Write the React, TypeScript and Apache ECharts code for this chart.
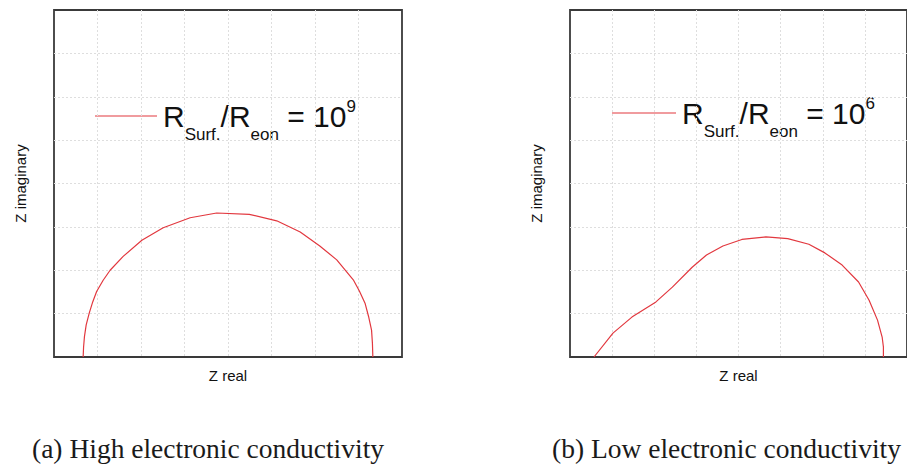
import React, { useEffect, useRef } from "react";
import * as echarts from "echarts";

// Nyquist-style impedance arcs (arbitrary units, axes 0..8)
const realHigh = [0.67, 0.68, 0.70, 0.74, 0.81, 0.89, 0.98, 1.13, 1.29, 1.59, 2.02, 2.51, 3.13, 3.74, 4.49, 5.12, 5.66, 6.11, 6.50, 6.88, 7.02, 7.15, 7.23, 7.30, 7.32, 7.33];
const imagHigh = [0, 0.23, 0.47, 0.74, 1.01, 1.27, 1.51, 1.77, 2.00, 2.32, 2.69, 2.98, 3.21, 3.32, 3.29, 3.14, 2.88, 2.56, 2.24, 1.78, 1.52, 1.24, 0.94, 0.62, 0.32, 0];

const realLow = [0.57, 1.02, 1.47, 2.04, 2.43, 2.90, 3.24, 3.63, 4.08, 4.65, 5.17, 5.67, 6.05, 6.46, 6.85, 7.10, 7.30, 7.41, 7.44, 7.44];
const imagLow = [0, 0.55, 0.92, 1.27, 1.61, 2.07, 2.35, 2.56, 2.71, 2.77, 2.73, 2.60, 2.40, 2.12, 1.73, 1.31, 0.85, 0.46, 0.23, 0];

const ratioExponents = ["9", "6"];
const captions = ["(a) High electronic conductivity", "(b) Low electronic conductivity"];
const xTitle = "Z real";
const yTitle = "Z imaginary";
const axisMin = 0;
const axisMax = 8;
const axisStep = 1;

const seriesNames = ["ratio-1e9", "ratio-1e6"];

const SANS = '"Liberation Sans", Arial, Helvetica, sans-serif';
const SERIF = '"Liberation Serif", "Times New Roman", serif';
const RED = "#e2383f";
const FRAME = "#3a3a3a";

const richStyles = {
  m: { fontSize: 30, lineHeight: 30, fontFamily: SANS, fill: "#111" },
  sub: { fontSize: 17, lineHeight: 17, fontFamily: SANS, fill: "#111", padding: [37, 0, 0, 0] },
  sup: { fontSize: 17, lineHeight: 17, fontFamily: SANS, fill: "#111", padding: [0, 0, 19, 0] },
};

function toPairs(xs: number[], ys: number[]) {
  return xs.map((x, i) => [x, ys[i]]);
}

function axisPair(idx: number) {
  const common = {
    type: "value" as const,
    gridIndex: idx,
    min: axisMin,
    max: axisMax,
    interval: axisStep,
    axisLine: { show: false },
    axisTick: { show: false },
    axisLabel: { show: false },
    splitLine: {
      show: true,
      showMinLine: false,
      showMaxLine: false,
      lineStyle: { color: "#dedede", width: 1, type: [2, 2] },
    },
    nameLocation: "middle" as const,
    nameTextStyle: { fontSize: 15, fontFamily: SANS, color: "#111" },
  };
  return {
    x: { ...common, name: xTitle, nameGap: 11 },
    y: { ...common, name: yTitle, nameGap: 26 },
  };
}

function legendKey(x1: number, x2: number, y: number, textX: number, exp: string) {
  return {
    type: "group",
    children: [
      { type: "line", shape: { x1, y1: y, x2, y2: y }, style: { stroke: RED, lineWidth: 1.2 } },
      {
        type: "text",
        x: textX,
        y,
        style: {
          text: `{m|R}{sub|Surf.}{m|/R}{sub|eon}{m| = 10}{sup|${exp}}`,
          rich: richStyles,
          verticalAlign: "middle",
          align: "left",
        },
      },
    ],
  };
}

function arcSeries(idx: number, xs: number[], ys: number[]) {
  return {
    name: seriesNames[idx],
    type: "line",
    xAxisIndex: idx,
    yAxisIndex: idx,
    data: toPairs(xs, ys),
    symbol: "none",
    lineStyle: { color: RED, width: 1.2 },
    itemStyle: { color: RED },
  };
}

export default function App() {
  const ref = useRef<HTMLDivElement>(null);

  useEffect(() => {
    document.body.style.margin = "0";
    if (!ref.current) return;
    const chart = echarts.init(ref.current, undefined, { renderer: "svg" });
    const a0 = axisPair(0);
    const a1 = axisPair(1);
    const frame = { show: true, borderColor: FRAME, borderWidth: 1.8, backgroundColor: "transparent" };
    chart.setOption({
      animation: false,
      backgroundColor: "#fff",
      grid: [
        { left: 54, top: 10, width: 348, height: 347, ...frame },
        { left: 570, top: 10, width: 353, height: 347, ...frame },
      ],
      xAxis: [a0.x, a1.x],
      yAxis: [a0.y, a1.y],
      series: [arcSeries(0, realHigh, imagHigh), arcSeries(1, realLow, imagLow)],
      graphic: [
        legendKey(95, 157, 116, 163, ratioExponents[0]),
        legendKey(612, 676, 113, 682, ratioExponents[1]),
        { type: "text", left: 32, top: 434, style: { text: captions[0], font: `27.5px ${SERIF}`, fill: "#1a1a1a" } },
        { type: "text", left: 552, top: 434, style: { text: captions[1], font: `27.5px ${SERIF}`, fill: "#1a1a1a" } },
      ],
    });
    return () => chart.dispose();
  }, []);

  return <div ref={ref} style={{ position: "fixed", left: 0, top: 0, width: 907, height: 470 }} />;
}
